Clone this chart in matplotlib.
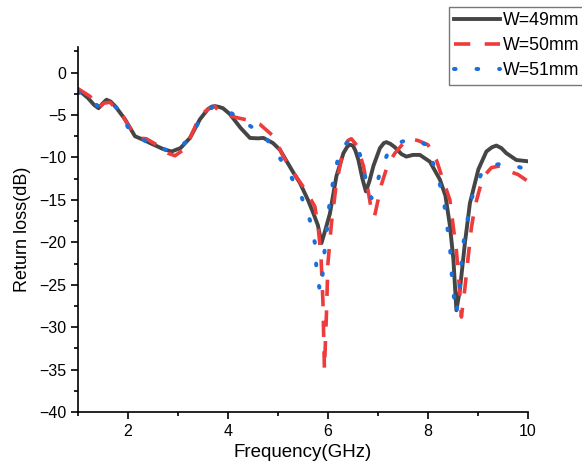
import matplotlib
matplotlib.use('Agg')
import matplotlib.pyplot as plt
from matplotlib.ticker import MultipleLocator

plt.rcParams['font.family'] = ['Liberation Sans', 'DejaVu Sans']

# W = 49 mm
f49 = [1.0, 1.2, 1.32, 1.41, 1.5, 1.57, 1.65, 1.75, 1.94, 2.14, 2.3, 2.44, 2.7, 2.87, 3.05,
       3.24, 3.44, 3.6, 3.68, 3.74, 3.82, 3.9, 4.04, 4.25, 4.44, 4.6, 4.71, 4.9, 5.04,
       5.31, 5.44, 5.6, 5.71, 5.8, 5.87, 5.95, 6.04, 6.17, 6.31, 6.39, 6.44, 6.5, 6.55,
       6.61, 6.69, 6.76, 6.83, 6.91, 7.04, 7.12, 7.17, 7.25, 7.34, 7.47, 7.57, 7.7, 7.84,
       8.04, 8.24, 8.35, 8.44, 8.51, 8.57, 8.64, 8.74, 8.84, 9.01, 9.17, 9.28, 9.37, 9.47,
       9.57, 9.77, 10.0]
s49 = [-2.0, -3.0, -3.8, -4.2, -3.6, -3.2, -3.4, -4.0, -5.5, -7.5, -7.9, -8.3, -9.0, -9.3, -8.9,
       -7.7, -5.5, -4.3, -4.0, -3.95, -4.05, -4.2, -4.9, -6.5, -7.7, -7.75, -7.7, -8.3, -9.1,
       -11.8, -13.0, -15.0, -16.6, -18.0, -20.1, -18.5, -16.6, -12.2, -9.5, -8.7, -8.5, -8.6, -9.2,
       -10.3, -12.5, -14.0, -12.8, -11.0, -8.9, -8.3, -8.2, -8.4, -8.8, -9.6, -9.9, -9.7, -9.7,
       -10.5, -12.6, -14.5, -18.0, -22.0, -28.0, -25.6, -20.1, -15.4, -11.4, -9.3, -8.8, -8.6, -8.9,
       -9.5, -10.3, -10.45]

# W = 50 mm
f50 = [1.0, 1.24, 1.41, 1.52, 1.64, 1.87, 2.17, 2.37, 2.6, 2.8, 2.94, 3.11, 3.25, 3.44, 3.6,
       3.74, 3.84, 4.0, 4.17, 4.4, 4.64, 4.91, 5.11, 5.31, 5.57, 5.74, 5.81, 5.86, 5.9,
       5.93, 5.97, 6.0, 6.07, 6.17, 6.31, 6.4, 6.47, 6.58, 6.71, 6.8, 6.87, 6.93, 7.07, 7.2,
       7.34, 7.5, 7.64, 7.8, 8.0, 8.17, 8.3, 8.44, 8.5, 8.57, 8.62, 8.67, 8.74, 8.81,
       8.87, 8.94, 9.04, 9.15, 9.27, 9.44, 9.61, 9.8, 10.0]
s50 = [-1.9, -2.8, -4.2, -3.6, -3.5, -4.9, -7.7, -7.8, -8.6, -9.5, -9.8, -9.1, -7.6, -5.1, -4.3,
       -4.0, -4.7, -5.0, -5.3, -5.6, -6.1, -7.5, -9.9, -11.8, -14.0, -15.8, -18.5, -21.5, -27.0,
       -35.0, -28.5, -22.5, -17.8, -13.0, -9.1, -8.0, -7.8, -8.6, -11.0, -13.8, -16.2, -17.0, -13.2, -10.8,
       -9.5, -8.4, -7.8, -8.0, -8.5, -10.3, -12.6, -15.0, -17.8, -21.0, -24.5, -28.8, -25.4, -21.5,
       -18.3, -15.8, -13.6, -12.0, -11.2, -11.0, -11.6, -12.0, -12.8]

# W = 51 mm
f51 = [1.0, 1.2, 1.41, 1.6, 1.81, 2.04, 2.41, 2.84, 3.0, 3.21, 3.47, 3.7, 3.87, 4.1,
       4.31, 4.5, 4.71, 5.0, 5.24, 5.47, 5.64, 5.74, 5.77, 5.84, 5.89, 5.94, 6.0, 6.04,
       6.14, 6.24, 6.41, 6.57, 6.71, 6.79, 6.87, 6.94, 7.04, 7.21, 7.4, 7.61, 7.8, 7.97,
       8.17, 8.31, 8.37, 8.44, 8.47, 8.51, 8.57, 8.64, 8.67, 8.72, 8.81, 8.91, 9.11, 9.3,
       9.54, 9.75, 9.97]
s51 = [-2.3, -3.0, -4.0, -3.4, -4.3, -6.9, -8.3, -9.3, -9.0, -7.9, -5.3, -4.0, -4.1, -4.9,
       -5.8, -6.5, -7.3, -9.7, -12.0, -14.6, -17.4, -20.1, -23.1, -25.8, -24.0, -20.5, -17.5, -14.8,
       -11.8, -9.1, -8.1, -8.3, -11.0, -13.9, -14.8, -14.0, -11.8, -9.3, -8.3, -7.9, -8.1, -8.5,
       -11.8, -14.6, -17.5, -20.3, -23.3, -26.0, -28.4, -25.2, -22.5, -19.7, -16.8, -14.0, -11.4, -10.9,
       -10.7, -11.0, -11.4]

labels = ['W=49mm', 'W=50mm', 'W=51mm']

fig = plt.figure(figsize=(5.82, 4.71), dpi=100)
ax = fig.add_axes([0.134, 0.125, 0.773, 0.775])

ax.plot(f49, s49, color='#454545', lw=2.8, label=labels[0])
ax.plot(f50, s50, color='#ee3b3b', lw=2.6, linestyle=(0, (4.5, 4)), label=labels[1])
ax.plot(f51, s51, color='#1b6fdc', lw=2.9, linestyle=(0, (0.4, 5.2)),
        dash_capstyle='round', label=labels[2])

ax.set_xlim(1, 10)
ax.set_ylim(-40, 3)
ax.xaxis.set_major_locator(MultipleLocator(2))
ax.xaxis.set_minor_locator(MultipleLocator(1))
ax.yaxis.set_major_locator(MultipleLocator(5))
ax.yaxis.set_minor_locator(MultipleLocator(2.5))
ax.set_xticks([2, 4, 6, 8, 10])

for side in ['top', 'right']:
    ax.spines[side].set_visible(False)
for side in ['left', 'bottom']:
    ax.spines[side].set_linewidth(1.2)

ax.tick_params(which='major', direction='out', length=5, width=1.2, labelsize=11.5)
ax.tick_params(which='minor', direction='out', length=3, width=1.2)

ax.set_xlabel('Frequency(GHz)', fontsize=13.5, labelpad=4)
ax.set_ylabel('Return loss(dB)', fontsize=13, labelpad=6)

leg = ax.legend(loc='upper left', bbox_to_anchor=(0.771, 0.985),
                bbox_transform=fig.transFigure, fontsize=12.8, frameon=True,
                fancybox=False, handlelength=2.6, handletextpad=0.15,
                labelspacing=0.45, borderpad=0.3, borderaxespad=0)
leg.get_frame().set_edgecolor('#555555')
leg.get_frame().set_linewidth(1.0)

plt.savefig('out.png', dpi=100)
